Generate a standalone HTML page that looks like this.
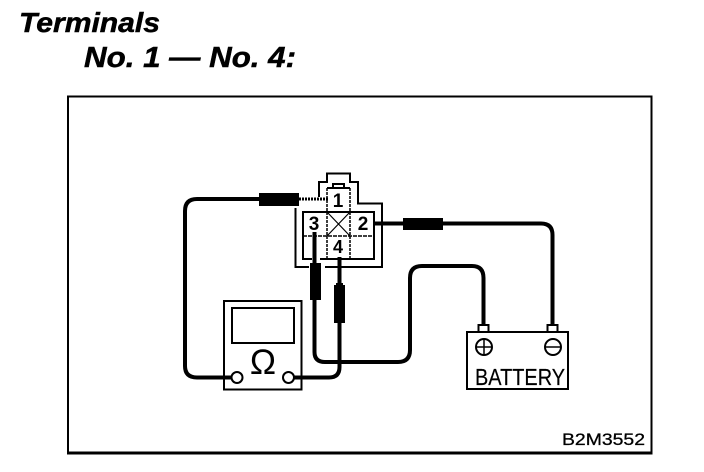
<!DOCTYPE html>
<html>
<head>
<meta charset="utf-8">
<style>
html,body{margin:0;padding:0;background:#fff;width:704px;height:472px;overflow:hidden}
svg{display:block}
text{font-family:"Liberation Sans",sans-serif;fill:#000}
</style>
</head>
<body>
<svg width="704" height="472" viewBox="0 0 704 472" xmlns="http://www.w3.org/2000/svg">
<rect width="704" height="472" fill="#fff"/>
<text x="19" y="32" font-size="28" font-weight="bold" font-style="italic" stroke="#000" stroke-width="0.5" textLength="141" lengthAdjust="spacingAndGlyphs">Terminals</text>
<text x="84" y="67" font-size="29" font-weight="bold" font-style="italic" stroke="#000" stroke-width="0.5" textLength="212" lengthAdjust="spacingAndGlyphs">No. 1 — No. 4:</text>
<path d="M68 453V96.500H651.500V453" fill="none" stroke="#000" stroke-width="2"/>
<path d="M67 453H652.500" fill="none" stroke="#000" stroke-width="3"/>

<g fill="none" stroke="#000">
<!-- connector housing -->
<path d="M327 183V173.500H350V182H358V203.500H382V267H325M309 267H295.500V208M327 182H319V197" stroke-width="2"/>
<path d="M327 212H303V259H312M320 259H374V212H350" stroke-width="2"/>
<path d="M327 188V259M350 188V259" stroke-width="1.500" stroke-dasharray="3 1"/>
<path d="M303 236H374" stroke-width="1.500" stroke-dasharray="4 1"/>
<path d="M327 212H350" stroke-width="2"/>
<path d="M327 212L350 236M350 212L327 236" stroke-width="1.200"/>
<path d="M327 188H350" stroke-width="2"/>
<path d="M333 188V184H344V188" stroke-width="2"/>

<!-- wires -->
<path d="M299 199H328" stroke-width="3" stroke-dasharray="2 1"/>
<path d="M259 199H197Q185 199 185 211V366Q185 377.500 197 377.500H232" stroke-width="4"/>
<path d="M374 223.500H541Q552.500 223.500 552.500 235V325" stroke-width="4"/>
<path d="M314.500 232V352Q314.500 362 325 362H398Q410 362 410 350V278Q410 266 422 266H472Q483.500 266 483.500 278V325" stroke-width="4"/>
<path d="M339.500 257V367Q339.500 377.500 329 377.500H293" stroke-width="4"/>

<!-- tester -->
<path d="M224 301H301.500V389.500H224Z" stroke-width="2"/>
<rect x="232" y="308" width="62" height="35" stroke-width="2"/>
<circle cx="237" cy="377.500" r="5.500" stroke-width="2" fill="#fff"/>
<circle cx="288.500" cy="377.500" r="5.500" stroke-width="2" fill="#fff"/>

<!-- battery -->
<path d="M478.500 331V325H488.500V331M547.500 331V325H557.500V331" stroke-width="2" fill="#fff"/>
<rect x="467" y="332" width="101" height="57" stroke-width="2" fill="#fff"/>
<circle cx="484" cy="347" r="8" stroke-width="2"/>
<path d="M476 347H492M484 339V355" stroke-width="1.500"/>
<circle cx="553" cy="347" r="8" stroke-width="2"/>
<path d="M546 347H560" stroke-width="1.500"/>
</g>

<!-- plugs -->
<g fill="#000">
<rect x="259" y="193" width="40" height="13"/>
<rect x="403" y="218" width="40" height="12"/>
<rect x="310" y="263" width="11" height="37"/>
<rect x="334" y="285" width="11" height="38"/>
<rect x="336" y="283" width="7" height="4"/>
</g>

<text x="338" y="207" font-size="19" font-weight="bold" text-anchor="middle">1</text>
<text x="363" y="230" font-size="19" font-weight="bold" text-anchor="middle">2</text>
<text x="314" y="230" font-size="19" font-weight="bold" text-anchor="middle">3</text>
<text x="338" y="253" font-size="18" font-weight="bold" text-anchor="middle">4</text>
<text x="263" y="374" font-size="35" text-anchor="middle">Ω</text>
<text x="475" y="385" font-size="23" textLength="90" lengthAdjust="spacingAndGlyphs" stroke="#000" stroke-width="0.2">BATTERY</text>
<text x="562" y="445" font-size="17" textLength="83" lengthAdjust="spacingAndGlyphs" stroke="#000" stroke-width="0.3">B2M3552</text>
</svg>
</body>
</html>
